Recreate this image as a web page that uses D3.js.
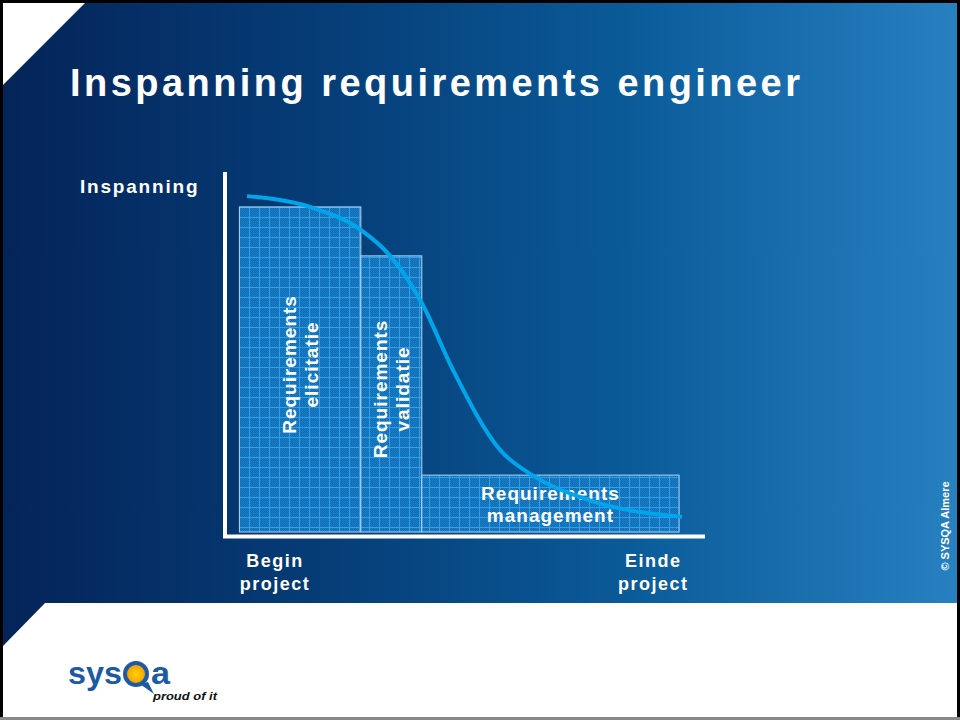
<!DOCTYPE html>
<html lang="nl">
<head>
<meta charset="UTF-8">
<title>Inspanning requirements engineer</title>
<script src="https://d3js.org/d3.v7.min.js"></script>
<style>
    html, body { margin: 0; padding: 0; background: #fff; }
    svg { display: block; }
    text { font-family: "Liberation Sans", Arial, Helvetica, sans-serif; font-weight: bold; }
</style>
</head>
<body>
<div id="slide"></div>
<script>
    // Data: project phases (time 0..100, effort 0..100)
    const phaseNames = [["Requirements", "elicitatie"], ["Requirements", "validatie"], ["Requirements", "management"]];
    const phaseStart = [3, 28.3, 41];
    const phaseEnd = [28.3, 41, 94.6];
    const phaseEffort = [90.3, 76.7, 15.8];
    const phaseRotated = [true, true, false];

    // Effort curve of the requirements engineer
    const curveTime   = [4.6, 17.7, 28.3, 34.4, 41.0, 47.5, 57.3, 64.0, 74.6, 95.2];
    const curveEffort = [93.3, 90.3, 83.9, 76.7, 63.6, 45.0, 22.8, 15.8, 9.4, 4.2];

    // x-axis tick labels
    const tickTime = [10.4, 89.2];
    const tickLabels = [["Begin", "project"], ["Einde", "project"]];

    const width = 960, height = 720;

    const svg = d3.select("#slide").append("svg")
        .attr("width", width)
        .attr("height", height);

    const defs = svg.append("defs");

    // background gradient of the blue panel
    const grad = defs.append("linearGradient").attr("id", "bg").attr("x1", 0).attr("x2", 1).attr("y1", 0).attr("y2", 0);
    [["0", "#042459"], ["0.35", "#063e78"], ["0.65", "#0a5a98"], ["1", "#2780c0"]].forEach(s =>
        grad.append("stop").attr("offset", s[0]).attr("stop-color", s[1]));

    // fine checker texture + grid for the bars
    const dots = defs.append("pattern").attr("id", "dots")
        .attr("patternUnits", "userSpaceOnUse").attr("width", 2).attr("height", 2);
    dots.append("rect").attr("width", 2).attr("height", 2).attr("fill", "#126cb4");
    dots.append("rect").attr("width", 1).attr("height", 1).attr("fill", "#1a7ec6");
    dots.append("rect").attr("x", 1).attr("y", 1).attr("width", 1).attr("height", 1).attr("fill", "#1a7ec6");

    const grid = defs.append("pattern").attr("id", "grid")
        .attr("patternUnits", "userSpaceOnUse").attr("width", 10).attr("height", 10)
        .attr("x", 239).attr("y", 207);
    grid.append("rect").attr("width", 10).attr("height", 10).attr("fill", "url(#dots)");
    grid.append("path").attr("d", "M0 0.5H10M0.5 0V10")
        .attr("stroke", "#2f9fe8").attr("stroke-width", 1).attr("fill", "none");

    // slide frame and blue panel
    svg.append("rect").attr("width", width).attr("height", height).attr("fill", "#fff");
    svg.append("path")
        .attr("d", "M3 85 L85 3 L957 3 L957 603 L45 603 L3 646 Z")
        .attr("fill", "url(#bg)");
    svg.append("rect").attr("x", 0).attr("y", 0).attr("width", width).attr("height", 3).attr("fill", "#000");
    svg.append("rect").attr("x", 0).attr("y", 0).attr("width", 3).attr("height", height).attr("fill", "#000");
    svg.append("rect").attr("x", 957).attr("y", 0).attr("width", 3).attr("height", height).attr("fill", "#000");
    svg.append("rect").attr("x", 0).attr("y", 717).attr("width", width).attr("height", 3).attr("fill", "#888");

    // title
    svg.append("text")
        .attr("x", 70).attr("y", 96)
        .attr("fill", "#fff")
        .attr("font-size", 38)
        .attr("textLength", 730)
        .attr("lengthAdjust", "spacing")
        .text("Inspanning requirements engineer");

    // scales
    const x = d3.scaleLinear().domain([0, 100]).range([225, 705]);
    const y = d3.scaleLinear().domain([0, 100]).range([532, 172]);

    const chart = svg.append("g");

    // bars
    chart.selectAll("rect.bar")
        .data(phaseEffort)
        .join("rect")
        .attr("class", "bar")
        .attr("x", (d, i) => x(phaseStart[i]))
        .attr("y", d => y(d))
        .attr("width", (d, i) => x(phaseEnd[i]) - x(phaseStart[i]))
        .attr("height", d => y(0) - y(d))
        .attr("fill", "url(#grid)")
        .attr("stroke", "#b9d6ee")
        .attr("stroke-width", 1);

    // bar labels
    phaseEffort.forEach((d, i) => {
        const cx = (x(phaseStart[i]) + x(phaseEnd[i])) / 2;
        const cy = (y(d) + y(0)) / 2 - (phaseRotated[i] ? 5 : 0);
        const t = chart.append("text")
            .attr("fill", "#fff")
            .attr("font-size", 19)
            .attr("letter-spacing", 1)
            .attr("text-anchor", "middle")
            .attr("transform", phaseRotated[i]
                ? `translate(${cx},${cy}) rotate(-90)`
                : `translate(${cx},${cy})`);
        phaseNames[i].forEach((line, k) => {
            t.append("tspan").attr("x", 0).attr("y", k === 0 ? -4 : 18).text(line);
        });
    });

    // axes (plain white lines, no ticks)
    chart.append("line")
        .attr("x1", x(0)).attr("x2", x(0))
        .attr("y1", y(100)).attr("y2", y(0) + 5)
        .attr("stroke", "#fff").attr("stroke-width", 4);
    chart.append("line")
        .attr("x1", x(0) - 2).attr("x2", x(100))
        .attr("y1", y(0) + 4.5).attr("y2", y(0) + 4.5)
        .attr("stroke", "#fff").attr("stroke-width", 4);

    // y-axis label
    chart.append("text")
        .attr("x", 80).attr("y", 193)
        .attr("fill", "#fff")
        .attr("font-size", 19)
        .attr("letter-spacing", 1.8)
        .text("Inspanning");

    // x-axis tick labels
    tickTime.forEach((t, i) => {
        const lbl = chart.append("text")
            .attr("fill", "#fff")
            .attr("font-size", 18)
            .attr("letter-spacing", 1.5)
            .attr("text-anchor", "middle");
        tickLabels[i].forEach((line, k) => {
            lbl.append("tspan").attr("x", x(t)).attr("y", 567 + k * 23).text(line);
        });
    });

    // effort curve (on top of labels)
    const line = d3.line()
        .x((d, i) => x(curveTime[i]))
        .y(d => y(d))
        .curve(d3.curveMonotoneX);
    chart.append("path")
        .datum(curveEffort)
        .attr("d", line)
        .attr("fill", "none")
        .attr("stroke", "#00a6ec")
        .attr("stroke-width", 4)
        .attr("stroke-linecap", "butt");

    // copyright
    svg.append("text")
        .attr("transform", "translate(949,526) rotate(-90)")
        .attr("text-anchor", "middle")
        .attr("fill", "#fff")
        .attr("font-size", 11)
        .text("© SYSQA Almere");

    // logo
    const logo = svg.append("g");
    logo.append("text")
        .attr("x", 68).attr("y", 684)
        .attr("fill", "#1d5aa6")
        .attr("font-size", 31)
        .attr("font-weight", "900")
        .attr("textLength", 54)
        .attr("lengthAdjust", "spacingAndGlyphs")
        .text("sys");
    const sun = defs.append("radialGradient").attr("id", "sun");
    sun.append("stop").attr("offset", "0").attr("stop-color", "#ffd200");
    sun.append("stop").attr("offset", "1").attr("stop-color", "#f39a00");
    logo.append("path")
        .attr("d", "M140 684 L154 694 L148 682 Z")
        .attr("fill", "#1d5aa6");
    logo.append("circle")
        .attr("cx", 136).attr("cy", 674).attr("r", 11)
        .attr("fill", "url(#sun)")
        .attr("stroke", "#1d5aa6").attr("stroke-width", 4);
    logo.append("text")
        .attr("x", 151).attr("y", 684)
        .attr("fill", "#1d5aa6")
        .attr("font-size", 31)
        .attr("font-weight", "900")
        .attr("textLength", 19)
        .attr("lengthAdjust", "spacingAndGlyphs")
        .text("a");
    logo.append("text")
        .attr("x", 153).attr("y", 700)
        .attr("fill", "#111")
        .attr("font-size", 11)
        .attr("font-style", "italic")
        .attr("textLength", 64)
        .attr("lengthAdjust", "spacingAndGlyphs")
        .text("proud of it");
</script>
</body>
</html>
